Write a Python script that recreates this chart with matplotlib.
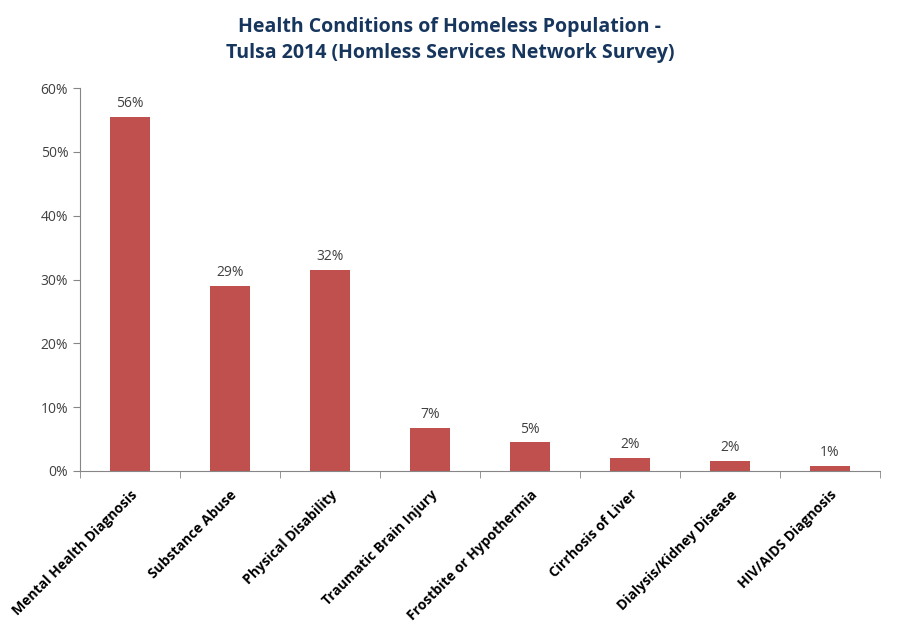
import matplotlib
matplotlib.use("Agg")
import matplotlib.pyplot as plt
from matplotlib.ticker import FuncFormatter, MultipleLocator
import numpy as np

categories = ["Mental Health Diagnosis", "Substance Abuse", "Physical Disability",
              "Traumatic Brain Injury", "Frostbite or Hypothermia", "Cirrhosis of Liver",
              "Dialysis/Kidney Disease", "HIV/AIDS Diagnosis"]
values = [0.555, 0.290, 0.315, 0.067, 0.045, 0.020, 0.016, 0.008]
labels = ["56%", "29%", "32%", "7%", "5%", "2%", "2%", "1%"]
title = "Health Conditions of Homeless Population -\nTulsa 2014 (Homless Services Network Survey)"

plt.rcParams['font.family'] = ['Open Sans', 'DejaVu Sans']

fig = plt.figure(figsize=(9, 6.4), dpi=100)
ax = fig.add_axes([80/900, 1-471/640, 800/900, (471-88)/640])

x = np.arange(len(categories))
bar_color = "#C0504D"
ax.bar(x, values, width=0.4, color=bar_color, zorder=2)
for xi, v, lab in zip(x, values, labels):
    ax.text(xi, v + 0.009, lab, ha='center', va='bottom', fontsize=10, color="#404040")

ax.set_xlim(-0.5, len(categories) - 0.5)
ax.set_ylim(0, 0.6)
ax.yaxis.set_major_locator(MultipleLocator(0.1))
ax.yaxis.set_major_formatter(FuncFormatter(lambda v, p: f"{v*100:.0f}%"))

axis_color = "#868686"
for s in ["top", "right"]:
    ax.spines[s].set_visible(False)
ax.spines["left"].set_color(axis_color)
ax.spines["bottom"].set_color(axis_color)
ax.tick_params(axis='y', colors=axis_color, labelcolor="#404040", labelsize=10, length=5, direction='out')

ax.set_xticks(x)
ax.set_xticklabels(categories, rotation=45, ha='right', va='top', rotation_mode='anchor',
                   fontsize=10, fontweight='bold', color="#000000")
ax.tick_params(axis='x', length=0, pad=12)
ax.set_xticks(np.arange(-0.5, len(categories) + 0.5, 1), minor=True)
ax.tick_params(axis='x', which='minor', length=5, color=axis_color, direction='out')

fig.text(0.5, 1 - 40/640, title, ha='center', va='center', fontsize=14, fontweight='bold',
         color="#17365D", linespacing=1.4)

fig.savefig("out.png", dpi=100, facecolor='white')
